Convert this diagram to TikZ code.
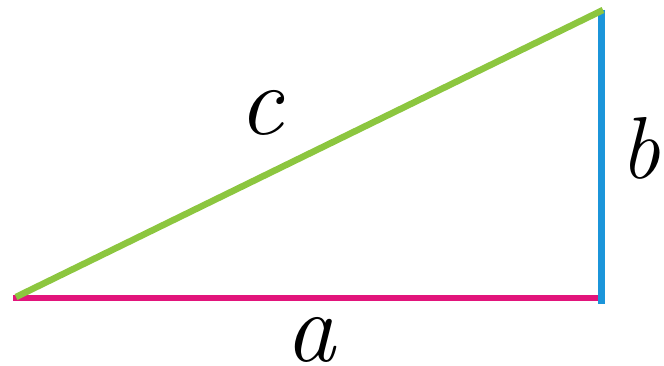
\documentclass[tikz,border=0pt]{standalone}
\definecolor{hypgreen}{HTML}{8CC63F}
\definecolor{legblue}{HTML}{1B95DA}
\definecolor{legpink}{HTML}{E2147B}
\tikzset{
  side/.style={line width=6.5pt},
  lbl/.style={inner sep=0pt, font=\fontsize{100}{100}\selectfont\itshape},
  lblsmall/.style={inner sep=0pt, font=\fontsize{88}{88}\selectfont\itshape}
}
\begin{document}
\begin{tikzpicture}[x=1pt,y=-1pt]
\useasboundingbox (0,0) rectangle (664,366);
\coordinate (A) at (13,298);
\coordinate (B) at (601.5,298);
\coordinate (C) at (601.5,10);
\coordinate (Bb) at (601.5,304);
\coordinate (Ct) at (603,10);
\coordinate (Ag) at (16,297);
\draw[side, legpink] (A) -- (B);
\draw[side, legblue] (C) -- (Bb);
\draw[side, hypgreen] (Ag) -- (Ct);
\node[lbl, anchor=base] (c) at (261,135) {c};
\node[lbl, anchor=base] (a) at (310,361) {a};
\node[lblsmall, anchor=base west] (b) at (620,179) {b};
\end{tikzpicture}
\end{document}
